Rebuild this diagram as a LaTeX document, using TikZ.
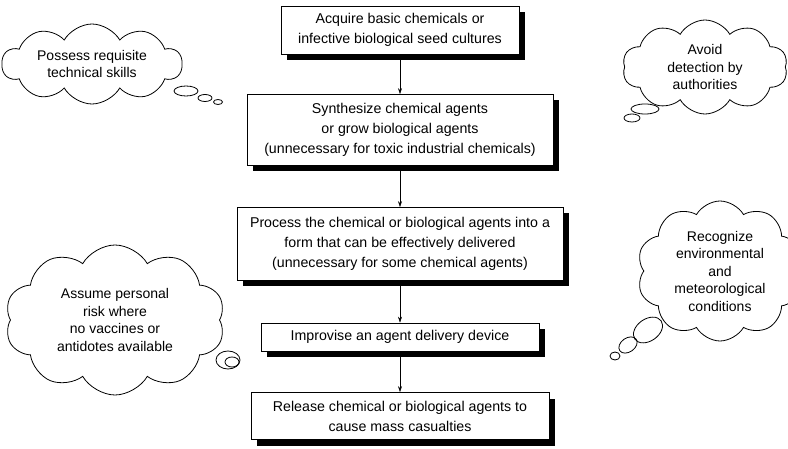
\documentclass[tikz,border=0pt]{standalone}
\usepackage{fontspec}
\setmainfont{Liberation Sans}
\usetikzlibrary{shapes.symbols,shadows,arrows.meta}
\tikzset{
  stage/.style={draw,fill=white,line width=0.6pt,align=center,inner sep=2pt,
    font=\fontsize{14.2}{20}\selectfont,
    drop shadow={shadow xshift=6pt,shadow yshift=-6pt,fill=black,opacity=1}},
  thought/.style={cloud,draw,line width=0.8pt,cloud puffs=10,cloud puff arc=120,
    cloud ignores aspect,align=center,inner sep=0pt,
    font=\fontsize{14}{17.5}\selectfont},
  bubble/.style={line width=0.8pt},
  flow/.style={-{Stealth[length=6pt,width=4pt]},line width=0.5pt}
}
\begin{document}
\begin{tikzpicture}[x=1pt,y=-1pt]
  \useasboundingbox (0,0) rectangle (788,449);

  \node[stage,minimum width=238,minimum height=48] (acquire) at (400,30)
    {Acquire basic chemicals or\\infective biological seed cultures};
  \node[stage,minimum width=306,minimum height=71] (grow) at (400,130)
    {Synthesize chemical agents\\or grow biological agents\\(unnecessary for toxic industrial chemicals)};
  \node[stage,minimum width=326,minimum height=73] (process) at (400,244)
    {Process the chemical or biological agents into a\\form that can be effectively delivered\\(unnecessary for some chemical agents)};
  \node[stage,minimum width=278,minimum height=28] (device) at (400,337)
    {Improvise an agent delivery device};
  \node[stage,minimum width=298,minimum height=47] (release) at (400,416)
    {Release chemical or biological agents to\\cause mass casualties};

  \draw[flow] (acquire) -- (grow);
  \draw[flow] (grow) -- (process);
  \draw[flow] (process) -- (device);
  \draw[flow] (device) -- (release);

  \node[thought,minimum width=180,minimum height=80] (skills) at (92,64)
    {Possess requisite\\technical skills};
  \draw[bubble] (186,91) ellipse (12 and 5);
  \draw[bubble] (205,98) ellipse (7 and 3.5);
  \draw[bubble] (218,102) ellipse (4.5 and 2.5);

  \node[thought,minimum width=165,minimum height=94] (detect) at (705,67)
    {Avoid\\detection by\\authorities};
  \draw[bubble] (645,109) ellipse (14 and 5);
  \draw[bubble] (632,118) ellipse (8 and 4);

  \node[thought,minimum width=220,minimum height=150] (risk) at (115,320)
    {Assume personal\\risk where\\no vaccines or\\antidotes available};
  \draw[bubble] (228,360) ellipse (12 and 9);
  \draw[bubble] (232,362) ellipse (7 and 5);

  \node[thought,minimum width=166,minimum height=140] (weather) at (720,271)
    {Recognize\\environmental\\and\\meteorological\\conditions};
  \draw[bubble,rotate around={35:(648,330)}] (648,330) ellipse (16 and 11);
  \draw[bubble,rotate around={35:(628,345)}] (628,345) ellipse (10 and 7);
  \draw[bubble] (615,356) ellipse (5 and 4);
\end{tikzpicture}
\end{document}
